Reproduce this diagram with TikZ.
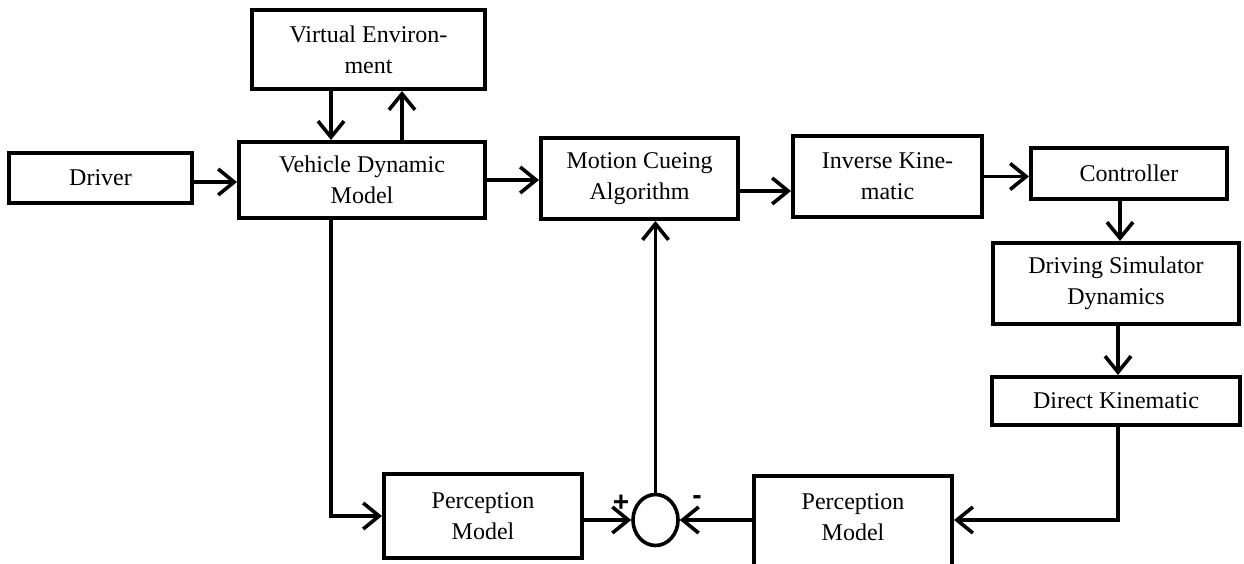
\documentclass[tikz,border=0pt]{standalone}
\usepackage{fontspec}
\setmainfont{Liberation Serif}
\newfontfamily\signfont{Liberation Sans}
\usetikzlibrary{arrows.meta,shapes.geometric}
\begin{document}
\begin{tikzpicture}[x=1pt,y=-1pt,
  box/.style={draw, line width=4pt, align=center, inner sep=0pt, font=\fontsize{24}{31}\selectfont},
  lbl/.style={align=center, inner sep=0pt, font=\fontsize{24}{31}\selectfont},
  arr/.style={line width=3.6pt, -{Straight Barb[length=16pt,width=26pt]}},
  sign/.style={font=\signfont\bfseries\fontsize{28}{28}\selectfont, inner sep=0pt}]
\useasboundingbox (0,0) rectangle (1244,564);

\node[box, minimum width=233pt, minimum height=79pt] (ve) at (368.5,49.5) {Virtual Environ-\\ment};
\node[box, minimum width=183pt, minimum height=50pt] (driver) at (100.5,178) {Driver};
\node[box, minimum width=246pt, minimum height=76pt] (vdm) at (362,180) {Vehicle Dynamic\\Model};
\node[box, minimum width=197pt, minimum height=81pt] (mca) at (639.5,178.5) {Motion Cueing\\Algorithm};
\node[box, minimum width=189pt, minimum height=81pt] (ik) at (887.5,176.5) {Inverse Kine-\\matic};
\node[box, minimum width=196pt, minimum height=51pt] (ctrl) at (1129,173.5) {Controller};
\node[box, minimum width=246pt, minimum height=81pt] (dsd) at (1116,283.5) {Driving Simulator\\Dynamics};
\node[box, minimum width=248pt, minimum height=48pt] (dk) at (1116,401) {Direct Kinematic};
\node[box, minimum width=198pt, minimum height=84pt] (pm1) at (483,516) {Perception\\Model};
\node[box, minimum width=198pt, minimum height=96pt] (pm2) at (853,524) {};
\node[lbl] (pm2t) at (853,517.5) {Perception\\Model};
\node[draw, ellipse, line width=3.6pt, minimum width=45pt, minimum height=51pt, inner sep=0pt] (sum) at (655.5,520) {};
\node[sign] (plus) at (621,503) {+};
\node[sign] (minus) at (697,500) {-};

\coordinate (xa) at (331,0);
\coordinate (xb) at (402,0);
\coordinate (xc) at (1120,0);
\coordinate (xd) at (1118,0);
\coordinate (ya) at (0,182);
\coordinate (yb) at (0,191);
\coordinate (yc) at (0,520);

\draw[arr] (driver.east |- ya) -- (vdm.west |- ya);
\draw[arr] (ve.south -| xa) -- (vdm.north -| xa);
\draw[arr] (vdm.north -| xb) -- (ve.south -| xb);
\draw[arr] (vdm.east) -- (vdm.east -| mca.west);
\draw[arr] (mca.east |- yb) -- (ik.west |- yb);
\draw[arr] (ik.east) -- (ik.east -| ctrl.west);
\draw[arr] (ctrl.south -| xc) -- (dsd.north -| xc);
\draw[arr] (dsd.south -| xd) -- (dk.north -| xd);
\draw[arr] (dk.south -| xd) |- (pm2.east |- yc);
\draw[arr] (pm2.west |- yc) -- (sum.east);
\draw[arr] (pm1.east |- yc) -- (sum.west);
\draw[arr] (vdm.south -| xa) |- (pm1.west);
\draw[arr] (sum.north) -- (sum.north |- mca.south);
\end{tikzpicture}
\end{document}
